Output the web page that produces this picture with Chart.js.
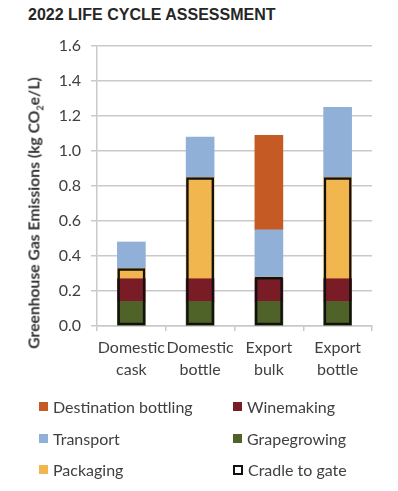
<!DOCTYPE html>
<html>
<head>
<meta charset="utf-8">
<script src="https://cdn.jsdelivr.net/npm/chart.js@4.4.0/dist/chart.umd.min.js"></script>
<style>
  html, body { margin: 0; padding: 0; background: #fff; }
  #wrap { position: relative; width: 398px; height: 491px; overflow: hidden; }
  #wrap canvas { position: absolute; left: 0; top: 0; }
  #title {
    position: absolute; left: 28px; top: 6px;
    font: bold 16px 'Liberation Sans', Arial, sans-serif; color: #262626;
  }
  #yTitle {
    position: absolute; left: 35px; top: 213px;
    transform: translate(-50%, -50%) rotate(-90deg);
    white-space: nowrap; font: bold 15.7px Lato, sans-serif; color: #333;
  }
  #legend {
    position: absolute; left: 39px; top: 391px;
    display: grid; grid-auto-flow: column;
    grid-template-rows: repeat(3, 31.5px); grid-template-columns: 194px auto;
    font: 16px Lato, sans-serif; color: #404040;
  }
  .item { display: flex; align-items: center; }
  .swatch { width: 9px; height: 9px; margin-right: 5px; box-sizing: border-box; }
</style>
</head>
<body>
<div id="wrap">
  <div id="title">2022 LIFE CYCLE ASSESSMENT</div>
  <canvas id="lca" width="398" height="491"></canvas>
  <div id="yTitle">Greenhouse Gas Emissions (kg CO<sub style="font-size:9px">2</sub>e/L)</div>
  <div id="legend"></div>
</div>
<script>
// ── Data ──────────────────────────────────────────────────────────────────
const categories          = [['Domestic', 'cask'], ['Domestic', 'bottle'], ['Export', 'bulk'], ['Export', 'bottle']];
const grapegrowing        = [0.14, 0.14, 0.14, 0.14];
const winemaking          = [0.13, 0.13, 0.13, 0.13];
const packaging           = [0.06, 0.58, 0.01, 0.58];
const transport           = [0.15, 0.23, 0.27, 0.40];
const destinationBottling = [null, null, 0.54, null];
const yTicks              = [0, 0.2, 0.4, 0.6, 0.8, 1.0, 1.2, 1.4, 1.6];

// cradle to gate = everything up to the winery door
const cradleToGate = grapegrowing.map((v, i) => +(v + winemaking[i] + packaging[i]).toFixed(2));

const GRID = '#c9c9c9';
const TEXT = '#404040';

function layer(label, data, color) {
  return { label, data, backgroundColor: color, stack: 'total', order: 1, barThickness: 28, borderWidth: 0 };
}

const datasets = [
  layer('Grapegrowing',         grapegrowing,        '#4f6228'),
  layer('Winemaking',           winemaking,          '#7a1c25'),
  layer('Packaging',            packaging,           '#f2b64f'),
  layer('Transport',            transport,           '#91b0d8'),
  layer('Destination bottling', destinationBottling, '#c55a24'),
  {
    label: 'Cradle to gate',
    data: cradleToGate,
    backgroundColor: 'rgba(0,0,0,0)',
    borderColor: '#111',
    borderWidth: 2.5,
    borderSkipped: false,
    stack: 'gate',
    grouped: false,
    maxBarThickness: 28,
    order: 0
  }
];

// ── Chart ─────────────────────────────────────────────────────────────────
const chart = new Chart(document.getElementById('lca'), {
  type: 'bar',
  data: { labels: categories, datasets },
  options: {
    responsive: false,
    animation: false,
    layout: { padding: { left: 0, top: 46, right: 26, bottom: 0 } },
    plugins: { legend: { display: false }, tooltip: { enabled: false } },
    scales: {
      x: {
        stacked: true,
        afterFit: s => { s.height = 165; },
        grid: {
          offset: true,
          drawOnChartArea: true,
          color: ctx => ctx.index === categories.length ? GRID : 'rgba(0,0,0,0)',
          lineWidth: 1.5,
          tickColor: GRID,
          tickLength: 5
        },
        border: { display: true, color: GRID, width: 1.5 },
        ticks: { color: TEXT, font: { family: 'Lato', size: 16, lineHeight: 1.35 }, padding: 6, maxRotation: 0, autoSkip: false }
      },
      y: {
        stacked: true,
        min: 0,
        max: 1.6,
        afterFit: s => { s.width = 97; },
        afterBuildTicks: s => { s.ticks = yTicks.map(v => ({ value: v })); },
        grid: { color: GRID, lineWidth: 1.5, tickLength: 6 },
        border: { display: true, color: GRID, width: 1.5 },
        ticks: { color: TEXT, font: { family: 'Lato', size: 16 }, padding: 10, callback: v => v.toFixed(1) }
      }
    }
  }
});

// ── Legend (two columns, top layer first) ───────────────────────────────
function renderLegend() {
  const stackLayers = chart.data.datasets.filter(d => d.stack === 'total').reverse();
  const outline = chart.data.datasets.filter(d => d.stack === 'gate');
  document.getElementById('legend').innerHTML = stackLayers.concat(outline).map(d => {
    const sw = d.stack === 'gate'
      ? `<span class="swatch" style="width:10px;height:10px;border:2px solid ${d.borderColor}"></span>`
      : `<span class="swatch" style="background:${d.backgroundColor}"></span>`;
    return `<div class="item">${sw}<span>${d.label}</span></div>`;
  }).join('');
}
renderLegend();
</script>
</body>
</html>
